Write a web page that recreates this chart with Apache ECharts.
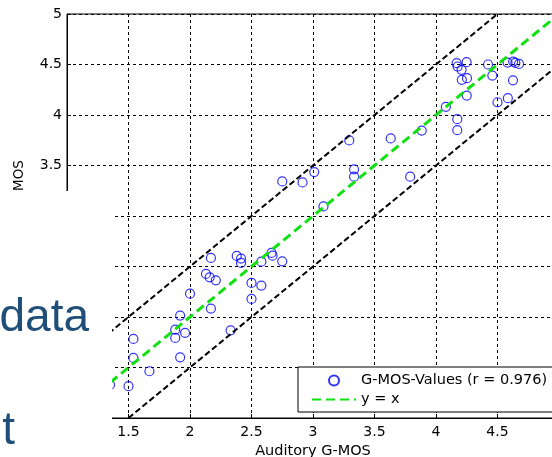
<!DOCTYPE html>
<html>
<head>
<meta charset="utf-8">
<title>G-MOS</title>
<script src="https://cdn.jsdelivr.net/npm/echarts@6/dist/echarts.min.js"></script>
<style>
  html, body { margin: 0; padding: 0; background: #fff; }
  #chart { width: 552px; height: 457px; }
</style>
</head>
<body>
<div id="chart"></div>
<script>
// auditory G-MOS (x) vs MOS (y)
const gmosX = [1.35, 1.50, 1.54, 1.54, 1.67, 1.88, 1.88, 1.92, 1.92, 1.96,
  2.00, 2.13, 2.16, 2.21, 2.17, 2.17, 2.33, 2.38, 2.415, 2.415,
  2.50, 2.50, 2.58, 2.58, 2.663, 2.671, 2.75, 2.75, 2.915, 3.01,
  3.085, 3.295, 3.334, 3.334, 3.632, 3.79, 3.884, 4.08, 4.173, 4.173,
  4.25, 4.21, 4.252, 4.168, 4.176, 4.208, 4.249, 4.423, 4.458, 4.50,
  4.584, 4.626, 4.582, 4.627, 4.645, 4.675];
const mosY = [1.33, 1.315, 1.595, 1.783, 1.463, 1.875, 1.793, 1.601, 2.014, 1.843,
  2.231, 2.426, 2.393, 2.363, 2.083, 2.585, 1.868, 2.605, 2.578, 2.535,
  2.337, 2.179, 2.311, 2.548, 2.634, 2.607, 2.551, 3.342, 3.332, 3.435,
  3.095, 3.748, 3.462, 3.389, 3.768, 3.389, 3.846, 4.081, 3.959, 3.85,
  4.192, 4.348, 4.365, 4.513, 4.48, 4.447, 4.523, 4.5, 4.39, 4.126,
  4.167, 4.343, 4.519, 4.529, 4.516, 4.506];

// reference lines y = x and y = x +/- 0.5
const identLine = [[1, 1], [5, 5]];
const upperLine = [[1, 1.5], [4.5, 5]];
const lowerLine = [[1.5, 1], [5, 4.5]];

const seriesNames = ['G-MOS-Values (r = 0.976)', 'y = x'];
const axisMin = 1, axisMax = 5, tickStep = 0.5;

// wide sans, closer to the stretched matlab text than arial
const font = "'DejaVu Sans', sans-serif";
const slideFont = "'Liberation Sans', Arial, sans-serif";
const gridDash = { color: '#000', width: 1, type: [3, 3] };
const hidden = 'rgba(0,0,0,0)';

const points = gmosX.map((x, i) => [x, mosY[i]]);

const chart = echarts.init(document.getElementById('chart'));
const option = {
  animation: false,
  backgroundColor: '#fff',
  grid: {
    left: 67, top: 14, width: 492, height: 404,
    outerBoundsMode: 'none',
    show: true, borderColor: '#000', borderWidth: 1, backgroundColor: '#fff'
  },
  legend: {
    data: [
      { name: seriesNames[0] },
      // line sample only, no marker in the middle
      { name: seriesNames[1], itemStyle: { color: hidden, borderColor: hidden, borderWidth: 0 } }
    ],
    orient: 'vertical',
    left: 298, top: 367,
    padding: [6, 20, 5, 13],
    itemWidth: 44, itemHeight: 10, itemGap: 4,
    backgroundColor: '#fff', borderColor: '#000', borderWidth: 1, borderRadius: 0,
    textStyle: { color: '#000', fontSize: 14.5, fontFamily: font }
  },
  xAxis: {
    type: 'value', min: axisMin, max: axisMax, interval: tickStep,
    name: 'Auditory G-MOS', nameLocation: 'middle', nameGap: 26,
    nameTextStyle: { color: '#000', fontSize: 14.5, fontFamily: font },
    axisLine: { lineStyle: { color: '#000', width: 1 } },
    axisTick: { inside: true, length: 4, lineStyle: { color: '#000' } },
    axisLabel: { color: '#000', fontSize: 14, fontFamily: font, margin: 7 },
    splitLine: { show: true, lineStyle: gridDash }
  },
  yAxis: {
    type: 'value', min: axisMin, max: axisMax, interval: tickStep,
    axisLine: { show: true, lineStyle: { color: '#000', width: 1 } },
    axisTick: { show: true, inside: true, length: 4, lineStyle: { color: '#000' } },
    axisLabel: { color: '#000', fontSize: 14, fontFamily: font, margin: 5 },
    splitLine: { show: true, lineStyle: gridDash }
  },
  series: [
    {
      type: 'line', data: upperLine, symbol: 'none', silent: true,
      lineStyle: { color: '#000', width: 2, type: [6, 3] }
    },
    {
      type: 'line', data: lowerLine, symbol: 'none', silent: true,
      lineStyle: { color: '#000', width: 2, type: [6, 3] }
    },
    {
      name: seriesNames[1], type: 'line', data: identLine, symbol: 'none',
      lineStyle: { color: '#11e011', width: 3, type: [9, 5] },
      itemStyle: { color: '#11e011' }
    },
    {
      name: seriesNames[0], type: 'scatter', data: points,
      symbol: 'circle', symbolSize: 9,
      itemStyle: { color: hidden, borderColor: '#0000ff', borderWidth: 1.2 }
    }
  ],
  graphic: [
    {
      type: 'text', z: 50, x: 19, y: 175.5, rotation: Math.PI / 2,
      style: { text: 'MOS', fill: '#000', font: '13.5px ' + font, align: 'center', verticalAlign: 'middle' }
    },
    // slide box lying over the lower-left of the plot
    {
      type: 'rect', z: 100, shape: { x: 0, y: 191, width: 112, height: 266 },
      style: { fill: '#fff' }
    },
    {
      type: 'text', z: 101, x: 89, y: 295,
      style: { text: 'data', fill: '#1f4e79', font: '46px ' + slideFont, align: 'right', verticalAlign: 'alphabetic' }
    },
    {
      type: 'text', z: 101, x: 15, y: 408,
      style: { text: 't', fill: '#1f4e79', font: '46px ' + slideFont, align: 'right', verticalAlign: 'alphabetic' }
    }
  ]
};
chart.setOption(option);
</script>
</body>
</html>
